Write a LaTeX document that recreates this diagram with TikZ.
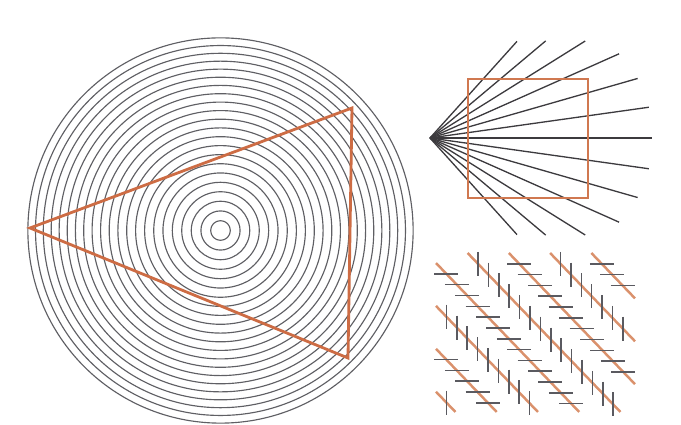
\documentclass[tikz,border=0pt]{standalone}
\usepackage{tikz}
\definecolor{ringgray}{RGB}{95,95,100}
\definecolor{raygray}{RGB}{60,58,62}
\definecolor{zolgray}{RGB}{90,90,96}
\definecolor{triorange}{RGB}{205,108,68}
\definecolor{sqorange}{RGB}{208,120,80}
\definecolor{zorange}{RGB}{218,145,108}

\begin{document}
\begin{tikzpicture}[
  x=0.02cm, y=-0.02cm,
  ring/.style={draw=ringgray, line width=0.65pt},
  tri/.style={draw=triorange, line width=1.6pt},
  ray/.style={draw=raygray, line width=0.75pt},
  sq/.style={draw=sqorange, line width=1.1pt},
  zline/.style={draw=zorange, line width=1.4pt},
  zoltick/.style={draw=zolgray, line width=0.9pt}]
\useasboundingbox (0,0) rectangle (681,425);
\coordinate (o) at (220.5,230.5);
\foreach \i in {1,...,22}
  \draw[ring] (o) circle[radius={9.9*\i-0.052*\i*\i}];
\coordinate (ta) at (30,228);
\coordinate (tb) at (352,108);
\coordinate (tc) at (348,358);
\draw[tri] (ta) -- (tb) -- (tc) -- cycle;
\coordinate (apex) at (430,138);
\foreach \a/\l in {0/222, 8/221, -8/221, 16/216, -16/216, 24/207, -24/207,
                   32/183, -32/183, 40/151, -40/151, 48/130, -48/130}
  \draw[ray] (apex) -- ++(\a:\l);
\draw[sq] (468,79) rectangle (588,198);
\foreach \j in {0,...,7}{
  \pgfmathsetmacro\c{-61.7-42.9*\j}
  \pgfmathsetmacro\xa{max(436,(253-\c)/1.04)}
  \pgfmathsetmacro\xb{min(635,(412-\c)/1.04)}
  \coordinate (za) at (\xa,{1.04*\xa+\c});
  \coordinate (zb) at (\xb,{1.04*\xb+\c});
  \draw[zline] (za) -- (zb);
  \pgfmathtruncatemacro\n{floor((\xb-\xa-4)/10.4)}
  \foreach \k in {1,...,\n}{
    \pgfmathsetmacro\tx{\xa+10.4*\k}
    \coordinate (t) at (\tx,{1.04*\tx+\c});
    \ifodd\j
      \draw[zoltick] (t) ++(-12,0) -- ++(24,0);
    \else
      \draw[zoltick] (t) ++(0,-12) -- ++(0,24);
    \fi
  }
}
\end{tikzpicture}
\end{document}
